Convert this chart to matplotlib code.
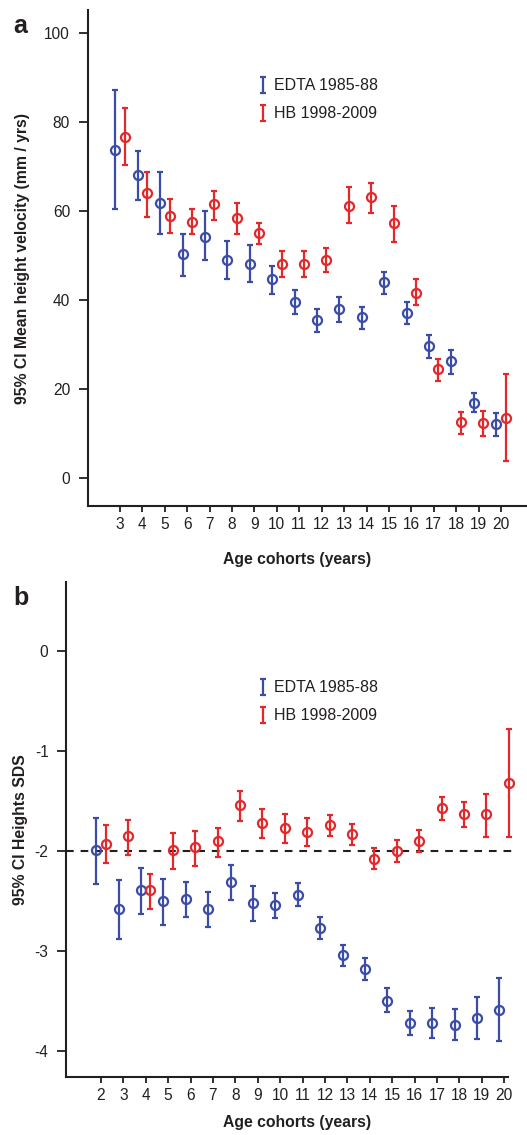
import numpy as np
import matplotlib
matplotlib.use("Agg")
import matplotlib.pyplot as plt

plt.rcParams['font.family'] = ['Liberation Sans', 'DejaVu Sans']
plt.rcParams['axes.unicode_minus'] = False

# --- data: panel a (mean height velocity, mm / yrs) ---
ages_a = [3, 4, 5, 6, 7, 8, 9, 10, 11, 12, 13, 14, 15, 16, 17, 18, 19, 20]
edta_a_mean = [73.7, 68.1, 61.9, 50.3, 54.2, 49.0, 48.1, 44.7, 39.5, 35.5, 38.1, 36.2, 44.0, 37.2, 29.6, 26.3, 17.0, 12.2]
edta_a_low = [60.4, 62.5, 54.8, 45.5, 48.9, 44.8, 44.0, 41.3, 36.8, 32.9, 35.1, 33.6, 41.3, 34.6, 27.0, 23.4, 14.8, 9.4]
edta_a_high = [87.2, 73.5, 68.7, 54.8, 60.0, 53.3, 52.4, 47.6, 42.2, 38.1, 40.7, 38.5, 46.2, 39.6, 32.1, 28.7, 19.1, 14.6]
hb_a_mean = [76.7, 64.0, 58.9, 57.5, 61.6, 58.4, 55.1, 48.1, 48.1, 49.0, 61.2, 63.1, 57.2, 41.7, 24.6, 12.7, 12.4, 13.6]
hb_a_low = [70.3, 58.7, 55.1, 54.8, 58.0, 54.8, 52.7, 45.2, 45.2, 46.2, 57.2, 59.5, 53.0, 38.9, 21.8, 9.9, 9.5, 3.8]
hb_a_high = [83.2, 68.7, 62.7, 60.4, 64.5, 61.9, 57.2, 51.0, 51.1, 51.8, 65.3, 66.2, 61.1, 44.7, 26.7, 14.8, 15.1, 23.5]

# --- data: panel b (height SDS) ---
ages_b = [2, 3, 4, 5, 6, 7, 8, 9, 10, 11, 12, 13, 14, 15, 16, 17, 18, 19, 20]
edta_b_mean = [-1.99, -2.58, -2.39, -2.50, -2.48, -2.58, -2.31, -2.52, -2.54, -2.44, -2.77, -3.04, -3.18, -3.50, -3.72, -3.72, -3.74, -3.67, -3.59]
edta_b_low = [-2.33, -2.88, -2.63, -2.74, -2.66, -2.76, -2.49, -2.70, -2.67, -2.55, -2.88, -3.15, -3.29, -3.61, -3.84, -3.87, -3.89, -3.88, -3.90]
edta_b_high = [-1.67, -2.29, -2.17, -2.28, -2.31, -2.41, -2.14, -2.35, -2.42, -2.32, -2.66, -2.94, -3.07, -3.37, -3.60, -3.57, -3.58, -3.46, -3.27]
hb_b_mean = [-1.93, -1.85, -2.39, -1.99, -1.96, -1.90, -1.54, -1.72, -1.77, -1.81, -1.74, -1.83, -2.08, -2.00, -1.90, -1.57, -1.63, -1.63, -1.32]
hb_b_low = [-2.12, -2.04, -2.58, -2.18, -2.15, -2.06, -1.70, -1.87, -1.92, -1.95, -1.85, -1.94, -2.18, -2.11, -2.01, -1.69, -1.76, -1.86, -1.86]
hb_b_high = [-1.74, -1.69, -2.23, -1.82, -1.80, -1.77, -1.40, -1.58, -1.63, -1.67, -1.64, -1.73, -1.97, -1.89, -1.79, -1.46, -1.51, -1.43, -0.78]

labels = ['EDTA 1985-88', 'HB 1998-2009']
BLUE = '#3a4ca5'
RED = '#e2282a'
INK = '#231f20'
OFFSET = 0.21
LABEL_FS = 11.3


def draw_series(ax, ages, mean, low, high, color, shift):
    x = np.array(ages) + shift
    m = np.array(mean)
    err = [m - np.array(low), np.array(high) - m]
    cont = ax.errorbar(x, m, yerr=err, fmt='o', color=color, mfc='none', mec=color,
                       ms=6.5, mew=1.6, elinewidth=1.6, capsize=2.4, capthick=1.6)
    for art in cont.lines[0:1] + tuple(cont.lines[1]) + tuple(cont.lines[2]):
        if art is not None:
            art.set_clip_on(False)


def style_axes(ax):
    for side in ['top', 'right']:
        ax.spines[side].set_visible(False)
    for side in ['left', 'bottom']:
        ax.spines[side].set_linewidth(1.5)
        ax.spines[side].set_color(INK)
    ax.tick_params(axis='y', length=6.8, width=1.3, pad=5.8, labelsize=11.2, colors=INK)
    ax.tick_params(axis='x', length=4.2, width=1.3, pad=4, labelsize=11.2, colors=INK)


def add_legend(ax, y_top):
    handles = []
    for c in [BLUE, RED]:
        h = ax.errorbar([np.nan], [np.nan], yerr=[1], fmt='none', color=c,
                        elinewidth=1.6, capsize=2.4, capthick=1.6)
        handles.append(h)
    ax.legend(handles, labels, loc='upper left', frameon=False,
              bbox_to_anchor=(256.5 / 527, 1 - y_top / 1135),
              bbox_transform=ax.figure.transFigure, fontsize=11.5,
              handlelength=0.8, handletextpad=0.31, labelspacing=0.8,
              borderpad=0, borderaxespad=0, labelcolor=INK)


fig = plt.figure(figsize=(5.27, 11.35), dpi=100)

# --- panel a ---
ax1 = fig.add_axes([87.5 / 527, 1 - 506 / 1135, 1 - 87.5 / 527, 496 / 1135])
draw_series(ax1, ages_a, edta_a_mean, edta_a_low, edta_a_high, BLUE, -OFFSET)
draw_series(ax1, ages_a, hb_a_mean, hb_a_low, hb_a_high, RED, OFFSET)
ax1.set_xlim(1.55, 21.16)
ax1.set_ylim(-6.2, 105.1)
ax1.set_xticks(ages_a)
ax1.set_yticks([0, 20, 40, 60, 80, 100])
style_axes(ax1)
ax1.set_ylabel('95% CI Mean height velocity (mm / yrs)', fontsize=LABEL_FS,
               fontweight='bold', color=INK)
ax1.set_xlabel('Age cohorts (years)', fontsize=LABEL_FS, fontweight='bold', color=INK)
ax1.yaxis.set_label_coords(-0.131, 0.5)
ax1.xaxis.set_label_coords(0.477, -0.092)
add_legend(ax1, 78.5)
fig.text(13 / 527, 1 - 26 / 1135, 'a', fontsize=18, fontweight='bold',
         ha='left', va='center', color=INK)

# --- panel b ---
ax2 = fig.add_axes([66 / 527, 1 - 1077 / 1135, 442 / 527, 495 / 1135])
ax2.axhline(-2, xmin=0, xmax=1.02, color=INK, lw=1.5, dashes=(3.7, 3.3),
            clip_on=False, zorder=1)
draw_series(ax2, ages_b, edta_b_mean, edta_b_low, edta_b_high, BLUE, -OFFSET)
draw_series(ax2, ages_b, hb_b_mean, hb_b_low, hb_b_high, RED, OFFSET)
ax2.set_xlim(0.44, 20.17)
ax2.set_ylim(-4.26, 0.69)
ax2.set_xticks(ages_b)
ax2.set_yticks([0, -1, -2, -3, -4])
style_axes(ax2)
ax2.set_ylabel('95% CI Heights SDS', fontsize=LABEL_FS, fontweight='bold', color=INK)
ax2.set_xlabel('Age cohorts (years)', fontsize=LABEL_FS, fontweight='bold', color=INK)
ax2.yaxis.set_label_coords(-0.086, 0.5)
ax2.xaxis.set_label_coords(0.523, -0.077)
add_legend(ax2, 680.5)
fig.text(13 / 527, 1 - 598 / 1135, 'b', fontsize=18, fontweight='bold',
         ha='left', va='center', color=INK)

fig.savefig('out.png', dpi=100)
